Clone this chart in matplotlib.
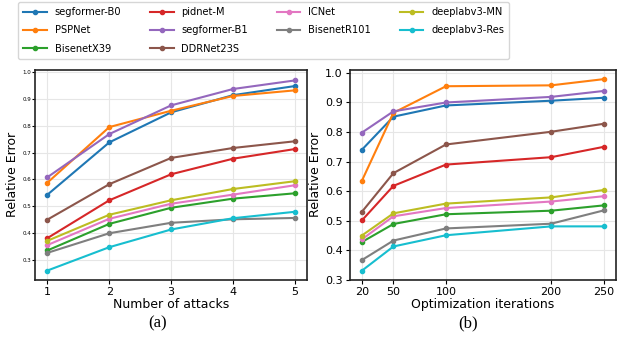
import matplotlib
matplotlib.use('Agg')
import matplotlib.pyplot as plt

plt.rcParams['font.family'] = 'DejaVu Sans'

models = ['segformer-B0', 'PSPNet', 'BisenetX39', 'pidnet-M', 'segformer-B1',
          'DDRNet23S', 'ICNet', 'BisenetR101', 'deeplabv3-MN', 'deeplabv3-Res']
colors = ['#1f77b4', '#ff7f0e', '#2ca02c', '#d62728', '#9467bd',
          '#8c564b', '#e377c2', '#7f7f7f', '#bcbd22', '#17becf']

# (a) number of attacks
attacks = [1, 2, 3, 4, 5]
err_attacks = {
    'segformer-B0': [0.543, 0.738, 0.850, 0.914, 0.948],
    'PSPNet': [0.588, 0.795, 0.856, 0.911, 0.932],
    'BisenetX39': [0.335, 0.434, 0.494, 0.528, 0.548],
    'pidnet-M': [0.381, 0.522, 0.619, 0.677, 0.713],
    'segformer-B1': [0.608, 0.769, 0.876, 0.937, 0.969],
    'DDRNet23S': [0.450, 0.582, 0.680, 0.717, 0.742],
    'ICNet': [0.355, 0.453, 0.509, 0.543, 0.578],
    'BisenetR101': [0.326, 0.399, 0.438, 0.451, 0.456],
    'deeplabv3-MN': [0.371, 0.468, 0.522, 0.564, 0.593],
    'deeplabv3-Res': [0.260, 0.347, 0.413, 0.455, 0.479],
}

# (b) optimization iterations
iterations = [20, 50, 100, 200, 250]
err_iters = {
    'segformer-B0': [0.740, 0.852, 0.890, 0.906, 0.916],
    'PSPNet': [0.635, 0.865, 0.955, 0.958, 0.979],
    'BisenetX39': [0.428, 0.489, 0.522, 0.534, 0.552],
    'pidnet-M': [0.501, 0.618, 0.690, 0.715, 0.750],
    'segformer-B1': [0.798, 0.870, 0.900, 0.919, 0.939],
    'DDRNet23S': [0.530, 0.661, 0.758, 0.801, 0.828],
    'ICNet': [0.437, 0.515, 0.543, 0.565, 0.583],
    'BisenetR101': [0.367, 0.433, 0.474, 0.490, 0.535],
    'deeplabv3-MN': [0.450, 0.525, 0.558, 0.579, 0.604],
    'deeplabv3-Res': [0.331, 0.413, 0.451, 0.481, 0.481],
}

fig = plt.figure(figsize=(6.27, 3.43), dpi=100)
ax1 = fig.add_axes([0.056, 0.184, 0.434, 0.612])
ax2 = fig.add_axes([0.558, 0.184, 0.424, 0.612])

for name, c in zip(models, colors):
    ax1.plot(attacks, err_attacks[name], marker='o', ms=3, lw=1.5, color=c, label=name)
    ax2.plot(iterations, err_iters[name], marker='o', ms=3, lw=1.5, color=c)

ax1.set_xticks(attacks)
ax1.set_ylim(0.225, 1.008)
ax1.set_yticks([0.3, 0.4, 0.5, 0.6, 0.7, 0.8, 0.9, 1.0])
ax1.tick_params(axis='y', labelsize=4, length=2, pad=1)
ax1.tick_params(axis='x', labelsize=8, length=3, pad=2)
ax1.set_xlabel('Number of attacks', fontsize=9, labelpad=1)
ax1.set_ylabel('Relative Error', fontsize=9, labelpad=2)

ax2.set_xticks(iterations)
ax2.set_xlim(8.6, 261.4)
ax2.set_ylim(0.3, 1.01)
ax2.set_yticks([0.3, 0.4, 0.5, 0.6, 0.7, 0.8, 0.9, 1.0])
ax2.tick_params(labelsize=8, length=3, pad=2)
ax2.set_xlabel('Optimization iterations', fontsize=9, labelpad=1)
ax2.set_ylabel('Relative Error', fontsize=9, labelpad=2)

for ax in (ax1, ax2):
    ax.grid(True, color='#e6e6e6', lw=0.8)
    ax.set_axisbelow(True)
    for s in ax.spines.values():
        s.set_linewidth(1.2)
        s.set_color('#222222')

fig.legend(loc='upper left', bbox_to_anchor=(0.029, 0.994), ncol=4, fontsize=7.1,
           frameon=True, fancybox=True, edgecolor='#cccccc', handlelength=2.4,
           handletextpad=0.8, labelspacing=0.85, columnspacing=2.9, borderpad=0.5,
           borderaxespad=0)

fig.text(0.252, 0.045, '(a)', fontsize=12, family='Liberation Serif', ha='center')
fig.text(0.746, 0.045, '(b)', fontsize=12, family='Liberation Serif', ha='center')

fig.savefig('out.png', dpi=100)
